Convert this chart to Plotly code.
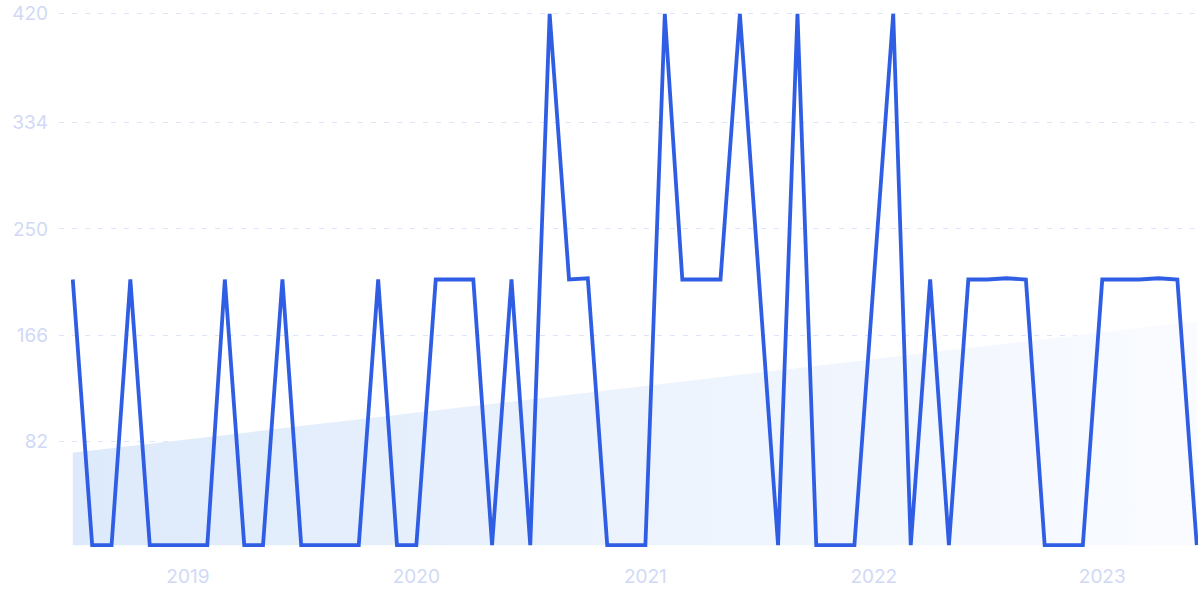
import pandas as pd
import plotly.graph_objects as go

# Monthly observations (Jul 2018 .. Jun 2023)
months = pd.date_range("2018-07-01", periods=60, freq="MS")
values = [
    210, 0, 0, 210, 0, 0, 0, 0, 210, 0,
    0, 210, 0, 0, 0, 0, 210, 0, 0, 210,
    210, 210, 0, 210, 0, 420, 210, 211, 0, 0,
    0, 420, 210, 210, 210, 420, 210, 0, 420, 0,
    0, 0, 210, 420, 0, 210, 0, 210, 210, 211,
    210, 0, 0, 0, 210, 210, 210, 211, 210, 0,
]

# Trend band (start / end)
trend_dates = ["2018-07-01", "2023-06-01"]
trend_values = [73, 177]

y_ticks = [82, 166, 250, 334, 420]
x_ticks = ["2019-01-01", "2020-01-01", "2021-01-01", "2022-01-01", "2023-01-01"]
x_tick_labels = ["2019", "2020", "2021", "2022", "2023"]

fig = go.Figure()

fig.add_trace(go.Scatter(
    x=trend_dates, y=trend_values, mode="lines",
    line=dict(width=0), fill="tozeroy",
    fillgradient=dict(type="horizontal",
                      colorscale=[[0, "#ddeafb"], [0.5, "#ecf3fd"], [1, "#f9fbff"]]),
    hoverinfo="skip", showlegend=False,
))

fig.add_trace(go.Scatter(
    x=months, y=values, mode="lines",
    line=dict(color="#2f5ee4", width=3.8),
    showlegend=False,
))

label_font = dict(family="Inter, Roboto, sans-serif", size=19, color="#d0d9f6")

fig.update_layout(
    width=1200, height=600,
    margin=dict(l=59, r=2, t=10, b=51, autoexpand=False),
    paper_bgcolor="white", plot_bgcolor="white",
    xaxis=dict(
        range=["2018-06-09", "2023-06-03"],
        tickvals=x_ticks, ticktext=x_tick_labels,
        showgrid=False, zeroline=False, showline=False, automargin=False,
        tickfont=label_font, ticks="", ticklabelstandoff=14,
        ticklabeloverflow="allow",
    ),
    yaxis=dict(
        range=[-3, 423],
        tickvals=y_ticks,
        showgrid=True, gridcolor="#dce4fb", gridwidth=1, griddash="5px,8px",
        zeroline=False, showline=False, automargin=False,
        tickfont=label_font, ticks="", ticklabelstandoff=10,
        ticklabeloverflow="allow",
    ),
)

fig.write_html("out.html", config={"displayModeBar": False},
               post_script="document.body.style.margin='0';")
